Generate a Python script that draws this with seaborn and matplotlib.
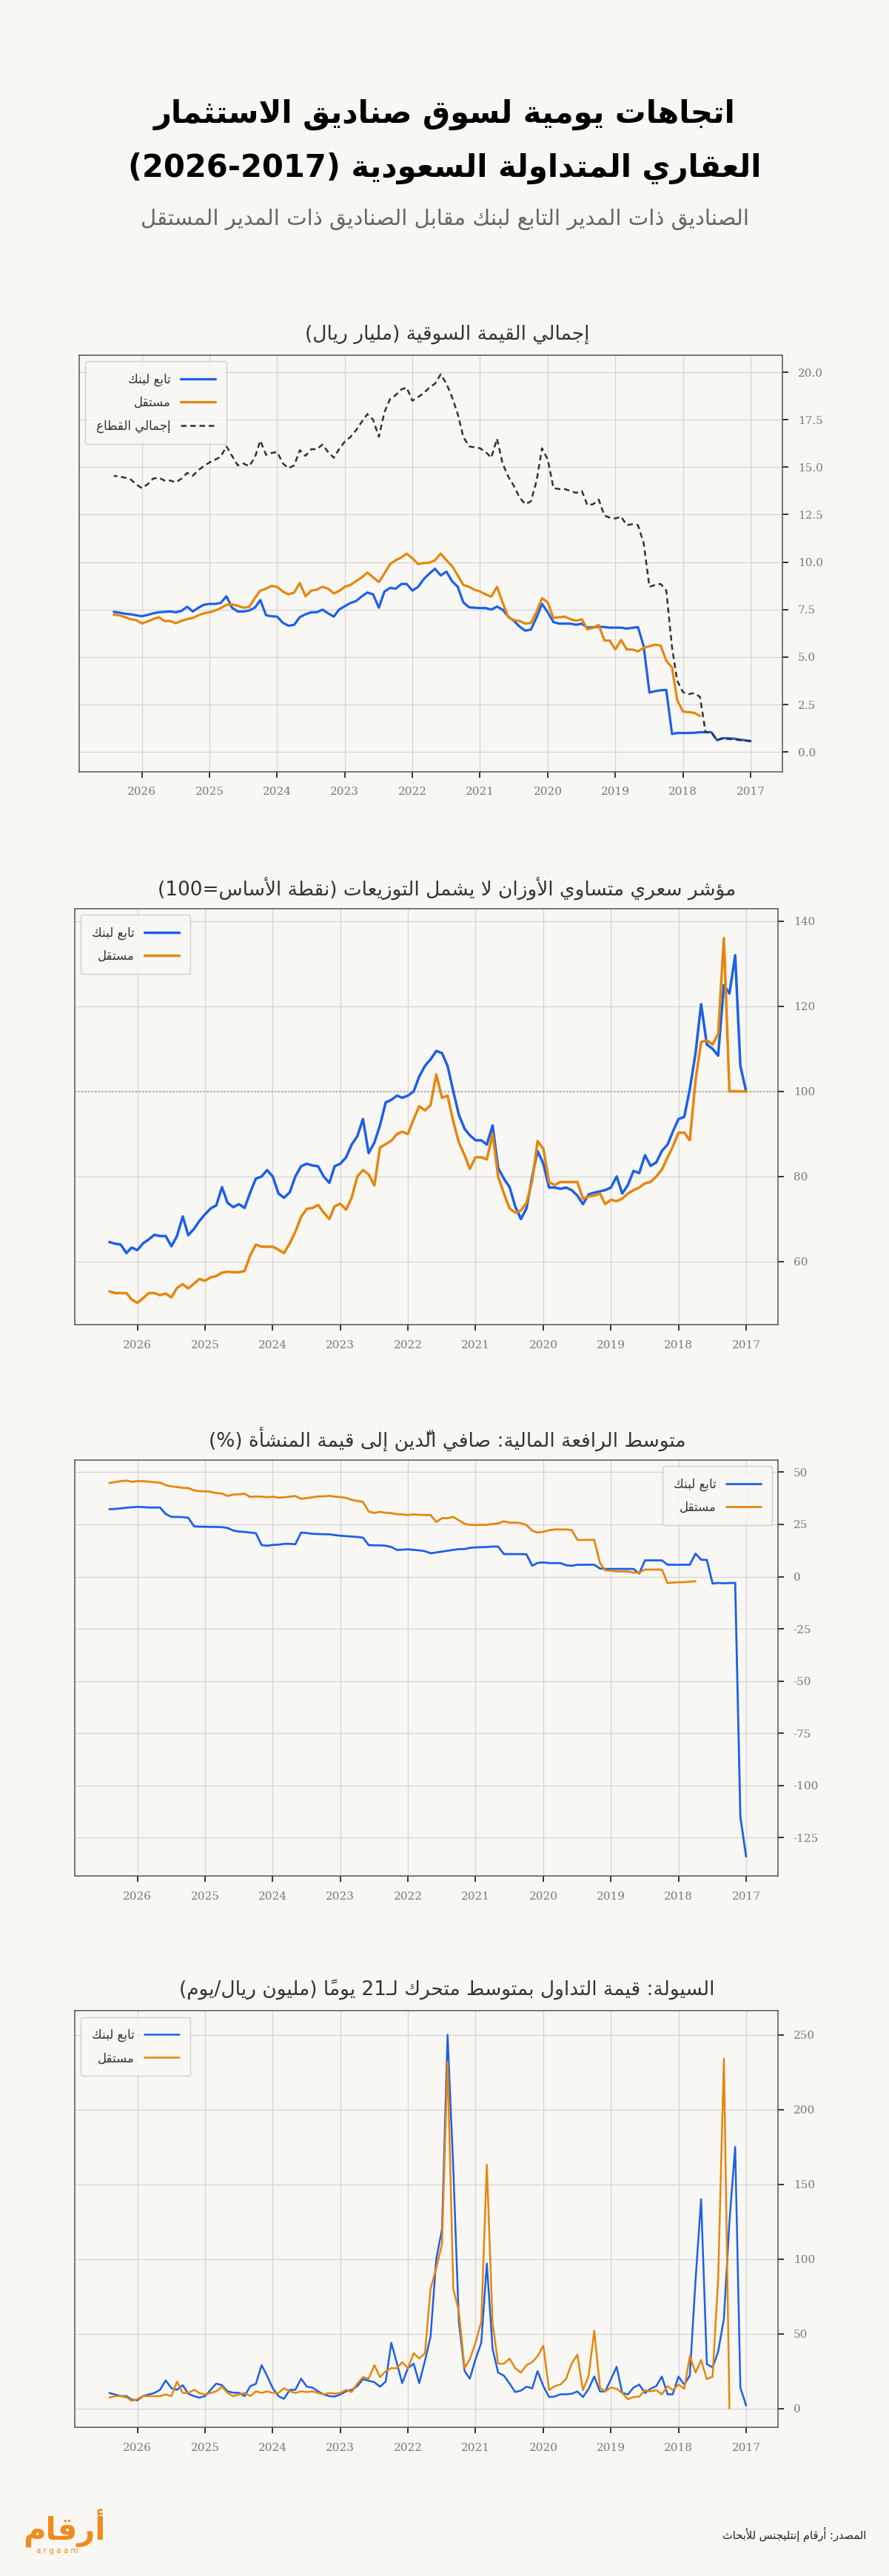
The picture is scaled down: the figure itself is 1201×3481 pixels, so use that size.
import re
import numpy as np
import pandas as pd
import matplotlib
matplotlib.use("Agg")
import matplotlib.pyplot as plt
import seaborn as sns

nan = np.nan

# monthly points, Jan 2017 .. Jun 2026
months = pd.date_range("2017-01-01", periods=114, freq="MS")

# total market value, bn SAR
mv_bank = [
    0.57, 0.62, 0.65, 0.7, 0.72, 0.72, 0.62, 1.04, 1.04, 1.04, 1.01, 1.0,
    1.0, 1.0, 0.95, 3.27, 3.25, 3.2, 3.13, 5.57, 6.58, 6.54, 6.5, 6.55,
    6.55, 6.55, 6.58, 6.6, 6.57, 6.55, 6.76, 6.7, 6.76, 6.76, 6.76, 6.84,
    7.36, 7.8, 7.1, 6.45, 6.39, 6.6, 6.9, 7.13, 7.5, 7.66, 7.5, 7.58,
    7.58, 7.6, 7.62, 7.88, 8.7, 9.0, 9.5, 9.3, 9.65, 9.4, 9.1, 8.7,
    8.5, 8.85, 8.85, 8.6, 8.65, 8.45, 7.6, 8.3, 8.4, 8.2, 7.95, 7.85,
    7.68, 7.5, 7.13, 7.3, 7.5, 7.36, 7.36, 7.25, 7.1, 6.7, 6.65, 6.8,
    7.13, 7.15, 7.2, 8.0, 7.6, 7.45, 7.4, 7.4, 7.6, 8.2, 7.85, 7.8,
    7.8, 7.75, 7.6, 7.4, 7.65, 7.43, 7.36, 7.4, 7.38, 7.36, 7.3, 7.22,
    7.15, 7.2, 7.25, 7.28, 7.34, 7.38,
]
mv_indep = [
    nan, nan, nan, nan, nan, nan, nan, nan, nan, 1.9, 2.06, 2.1,
    2.13, 2.73, 4.45, 4.8, 5.6, 5.65, 5.57, 5.49, 5.3, 5.4, 5.4, 5.9,
    5.4, 5.87, 5.87, 6.69, 6.54, 6.46, 6.99, 6.91, 7.0, 7.13, 7.1, 7.06,
    7.88, 8.1, 7.4, 6.8, 6.76, 6.9, 6.95, 7.1, 7.88, 8.7, 8.18, 8.3,
    8.45, 8.55, 8.7, 8.8, 9.3, 9.8, 10.1, 10.45, 10.1, 9.97, 9.95, 9.9,
    10.2, 10.45, 10.25, 10.1, 9.9, 9.4, 8.95, 9.2, 9.45, 9.2, 9.0, 8.8,
    8.7, 8.48, 8.35, 8.6, 8.7, 8.55, 8.5, 8.2, 8.9, 8.4, 8.3, 8.45,
    8.7, 8.75, 8.6, 8.5, 8.1, 7.63, 7.6, 7.7, 7.78, 7.75, 7.58, 7.45,
    7.36, 7.3, 7.2, 7.06, 7.0, 6.91, 6.78, 6.9, 6.9, 7.1, 7.0, 6.88,
    6.77, 6.95, 6.99, 7.1, 7.2, 7.23,
]
mv_total = [
    0.57, 0.6, 0.62, 0.67, 0.68, 0.72, 0.62, 1.04, 1.04, 2.9, 3.1, 3.05,
    3.15, 3.75, 5.5, 8.5, 8.85, 8.8, 8.7, 11.0, 11.95, 12.0, 11.95, 12.4,
    12.3, 12.35, 12.45, 13.3, 13.05, 13.0, 13.75, 13.65, 13.75, 13.85, 13.85, 13.9,
    15.4, 16.0, 14.3, 13.2, 13.05, 13.4, 14.0, 14.5, 15.2, 16.5, 15.5, 15.8,
    16.0, 16.05, 16.1, 16.6, 17.8, 18.7, 19.4, 19.9, 19.4, 19.2, 18.9, 18.7,
    18.5, 19.2, 19.1, 18.8, 18.6, 17.9, 16.6, 17.5, 17.8, 17.4, 16.95, 16.6,
    16.35, 15.95, 15.5, 15.8, 16.2, 15.95, 15.95, 15.6, 15.9, 15.1, 14.95, 15.2,
    15.8, 15.75, 15.65, 16.4, 15.5, 15.05, 15.2, 15.1, 15.6, 16.1, 15.55, 15.4,
    15.25, 15.05, 14.85, 14.55, 14.7, 14.4, 14.2, 14.3, 14.3, 14.45, 14.4, 14.1,
    13.9, 14.1, 14.35, 14.45, 14.5, 14.55,
]

# equal weight price index (base = 100)
px_bank = [
    100, 106, 132, 123, 125, 108.4, 110, 111, 120.5, 109, 100.5, 94,
    93.5, 90.5, 87.5, 86, 83.3, 82.5, 85, 80.8, 81.3, 78, 76, 80,
    77.4, 76.8, 76.5, 76.2, 75.8, 73.5, 75.5, 76.8, 77.4, 77.1, 77.4, 77.4,
    83, 86, 80, 72.5, 70, 73, 77.5, 79.5, 82, 92, 87.5, 88.5,
    88.5, 89.7, 91.2, 94.5, 100, 106, 109, 109.5, 107.5, 106, 103.5, 100,
    99, 98.5, 99, 98, 97.4, 92, 88, 85.5, 93.5, 89.5, 87.5, 84.5,
    83, 82.4, 78.5, 80, 82.4, 82.6, 83, 82.4, 80, 76.3, 75, 76,
    80, 81.5, 80, 79.5, 76.3, 72.6, 73.5, 72.8, 73.8, 77.5, 73.2, 72.5,
    71.1, 69.5, 67.7, 66.2, 70.6, 66, 63.6, 66, 66, 66.3, 65.2, 64.3,
    62.7, 63.3, 62, 64, 64.2, 64.6,
]
px_indep = [
    100, 100, 100, 100, 136, 113.5, 111, 112, 111.6, 102.6, 88.5, 90.3,
    90.3, 87, 84.5, 81.6, 80, 78.7, 78.4, 77.4, 76.8, 76, 74.8, 74.2,
    74.5, 73.5, 76, 75.5, 75.3, 74.8, 78.7, 78.7, 78.7, 78.7, 78, 78.7,
    86.5, 88.3, 79, 73.8, 72, 71.5, 72.5, 76, 80, 90, 84, 84.5,
    84.5, 81.8, 85, 88, 92.9, 99, 98.5, 104, 96.8, 95.5, 96.5, 93.5,
    90, 90.5, 90, 88.4, 87.6, 86.8, 77.9, 80.5, 81.5, 80, 75, 72.2,
    73.6, 73, 70, 71.5, 73.3, 72.6, 72.4, 70.5, 67, 64.3, 62, 62.8,
    63.5, 63.5, 63.5, 64, 61.5, 57.8, 57.5, 57.5, 57.6, 57.4, 56.6, 56.3,
    55.5, 55.9, 54.8, 53.7, 54.7, 53.8, 51.6, 52.5, 52.1, 52.6, 52.6, 51.4,
    50.3, 51.1, 52.6, 52.6, 52.6, 53,
]

# net debt to enterprise value, %
lev_bank = [
    -134, -115, -3, -3, -3.2, -3, -3.3, 8, 8.1, 11, 5.7, 5.7,
    5.7, 5.7, 5.7, 7.8, 7.8, 7.8, 7.8, 1.5, 3.7, 3.7, 3.7, 3.7,
    3.7, 3.7, 3.9, 5.7, 5.7, 5.7, 5.7, 5.2, 5.5, 6.5, 6.5, 6.5,
    6.8, 6.6, 5.2, 10.7, 10.8, 10.8, 10.8, 10.8, 14.4, 14.4, 14.2, 14.1,
    14.0, 13.8, 13.2, 13.2, 12.8, 12.4, 12.0, 11.6, 11.2, 12.2, 12.6, 12.8,
    13.1, 12.9, 12.8, 14.2, 14.8, 15.0, 15.0, 15.1, 18.7, 19.0, 19.2, 19.4,
    19.6, 19.9, 20.3, 20.3, 20.4, 20.5, 20.9, 21.1, 15.5, 15.7, 15.7, 15.3,
    15.2, 14.8, 15.1, 20.8, 21.1, 21.4, 21.6, 22.1, 23.3, 23.7, 23.8, 23.8,
    23.9, 23.9, 24.1, 28.2, 28.5, 28.6, 28.6, 30.0, 33.1, 33.1, 33.1, 33.3,
    33.4, 33.2, 33.0, 32.7, 32.4, 32.3,
]
lev_indep = [
    nan, nan, nan, nan, nan, nan, nan, nan, nan, -2.2, -2.4, -2.6,
    -2.7, -2.8, -3.1, 3.4, 3.4, 3.4, 3.4, 2.0, 1.9, 2.5, 2.5, 2.5,
    2.9, 3.0, 6.5, 17.6, 17.6, 17.6, 17.6, 22.3, 22.6, 22.6, 22.6, 22.2,
    21.5, 21.1, 22.0, 24.7, 25.6, 25.9, 25.8, 26.5, 25.5, 25.2, 24.8, 24.8,
    24.7, 24.8, 25.3, 27.0, 28.6, 28.0, 28.0, 26.2, 29.5, 29.5, 29.6, 29.8,
    29.5, 29.8, 29.9, 30.4, 30.6, 31.0, 30.5, 31.2, 35.8, 36.2, 36.8, 37.7,
    38.1, 38.3, 38.7, 38.4, 38.4, 38.0, 37.6, 37.3, 38.6, 38.3, 38.0, 37.8,
    38.3, 38.0, 38.3, 38.4, 38.1, 39.7, 39.4, 39.3, 38.6, 39.8, 40.0, 40.6,
    40.8, 40.9, 41.3, 42.4, 42.5, 42.9, 43.2, 43.8, 45.0, 45.2, 45.5, 45.7,
    45.7, 45.4, 46.0, 45.7, 45.3, 44.8,
]

# 21 day moving average traded value, mn SAR / day
liq_bank = [
    2, 14, 175, 125, 60, 38, 27.5, 29.7, 140, 86, 22, 16,
    21.4, 9.5, 9.5, 21.4, 15, 13.2, 10.4, 16, 14, 9.5, 10.4, 27.9,
    19.6, 11.4, 11.4, 21.4, 13.2, 7.7, 11.4, 9.9, 9.5, 9.5, 8, 7.7,
    15, 25, 13.5, 14.6, 12, 11, 16.7, 22, 24, 40, 97, 44,
    33, 20, 25, 58, 160, 250, 120, 100, 48, 32, 17, 30,
    27, 17, 30, 44, 18, 14.6, 17.6, 18.6, 19.6, 15, 12.5, 11.5,
    9.4, 8, 8.3, 9.4, 11.5, 14, 14.6, 20, 12.5, 12.5, 6.5, 8.3,
    13.6, 22, 29, 16.5, 15, 8.3, 10.5, 10.6, 11.5, 15.6, 16.7, 12.5,
    8.3, 7.3, 8.3, 9.9, 15.6, 12.5, 13.6, 18.8, 12.5, 10.4, 9.4, 8.3,
    5.5, 6, 8.3, 8.3, 9.4, 10.4,
]
liq_indep = [
    nan, nan, nan, 0, 234, 86.5, 21.4, 19.6, 32.4, 24, 35, 13.2,
    16, 12.3, 15, 9.5, 12.3, 11.4, 12.3, 8, 7.7, 6.2, 10.4, 13.2,
    14, 11.4, 14, 52, 22, 12.3, 36, 30, 19.6, 16, 15, 12.3,
    42, 35, 31, 29, 24, 27, 33.4, 30, 30, 57, 163, 58,
    44, 33, 27, 65, 80, 232, 110, 94, 80, 37, 33.4, 37,
    27, 31, 27, 27, 25, 21, 29, 20, 21, 16.7, 11, 12.5,
    10.4, 10, 10.4, 9.4, 10.4, 11.5, 11, 11.5, 10.4, 11.5, 13.6, 10.4,
    10.4, 11.5, 10.4, 11.5, 8.3, 10.4, 9.4, 8.3, 10.4, 14.6, 11.5, 10.4,
    9.4, 10.4, 12.5, 10.4, 10.4, 18, 8.3, 9.4, 8.3, 8.3, 8.3, 8.3,
    6.3, 5.2, 7.5, 8.3, 8.3, 7.3,
]

years = list(range(2017, 2027))

# ---- arabic text: matplotlib does no shaping / bidi, so do it here ----
AR_LETTERS = "ءآأؤإئابةتثجحخدذرزسشصضطظعغفقكلمنهوىي"
AR_NFORMS = [1, 2, 2, 2, 2, 4, 2, 4, 2, 4, 4, 4, 4, 4, 2, 2, 2, 2,
             4, 4, 4, 4, 4, 4, 4, 4, 4, 4, 4, 4, 4, 4, 4, 2, 2, 4]
AR_FORMS = {}
code = 0xFE80
for ch, n in zip(AR_LETTERS, AR_NFORMS):
    AR_FORMS[ch] = [chr(code + i) for i in range(n)]
    code += n
AR_FORMS["ـ"] = ["ـ"] * 4
LAM_ALEF = {"آ": 0xFEF5, "أ": 0xFEF7, "إ": 0xFEF9, "ا": 0xFEFB}
MARKS = set(chr(c) for c in range(0x064B, 0x0653))
MIRROR = {"(": ")", ")": "("}


def joins_left(ch):
    return ch in AR_FORMS and len(AR_FORMS[ch]) == 4


def joins_right(ch):
    return ch in AR_FORMS and len(AR_FORMS[ch]) >= 2


def rtl(text):
    clusters = []
    for ch in text:
        if ch in MARKS and clusters:
            clusters[-1] += ch
        else:
            clusters.append(ch)
    shaped = []
    k = 0
    while k < len(clusters):
        b, marks = clusters[k][0], clusters[k][1:]
        prev = clusters[k - 1][0] if k > 0 else ""
        nxt = clusters[k + 1][0] if k + 1 < len(clusters) else ""
        from_prev = joins_left(prev) and joins_right(b)
        if b == "ل" and nxt in LAM_ALEF:
            lig = chr(LAM_ALEF[nxt] + (1 if from_prev else 0))
            shaped.append(lig + marks + clusters[k + 1][1:])
            k += 2
            continue
        if b in AR_FORMS:
            forms = AR_FORMS[b]
            to_next = joins_left(b) and joins_right(nxt)
            if from_prev and to_next:
                f = forms[3]
            elif to_next:
                f = forms[2]
            elif from_prev:
                f = forms[1]
            else:
                f = forms[0]
            shaped.append(f + marks)
        else:
            shaped.append(clusters[k])
        k += 1
    # keep digit runs left-to-right, reverse the rest
    runs = []
    for cl in shaped:
        if re.match(r"[0-9A-Za-z]", cl):
            if runs and isinstance(runs[-1], list):
                runs[-1].append(cl)
            else:
                runs.append([cl])
        else:
            runs.append(cl)
    out = []
    for r in reversed(runs):
        out.append("".join(r) if isinstance(r, list) else MIRROR.get(r, r))
    return "".join(out)


# ---- style ----
BG = "#f9f7f3"
BLUE = "#1c60e8"
ORANGE = "#e5870e"
DARK = "#333333"
GRID = "#d2d5db"
TICK_TXT = "#7a7a7a"

sns.set_theme(style="whitegrid")
plt.rcParams["font.family"] = ["DejaVu Sans"]
plt.rcParams["axes.unicode_minus"] = False

fig = plt.figure(figsize=(12.01, 34.81), dpi=100, facecolor=BG)

fig.text(0.5, 0.9555, rtl("اتجاهات يومية لسوق صناديق الاستثمار"),
         ha="center", va="center", fontsize=30, fontweight="bold", color="black")
fig.text(0.5, 0.9348, rtl("العقاري المتداولة السعودية (2017-2026)"),
         ha="center", va="center", fontsize=30, fontweight="bold", color="black")
fig.text(0.5, 0.9147, rtl("الصناديق ذات المدير التابع لبنك مقابل الصناديق ذات المدير المستقل"),
         ha="center", va="center", fontsize=21, color="#666666")

panel_titles = [
    "إجمالي القيمة السوقية (مليار ريال)",
    "مؤشر سعري متساوي الأوزان لا يشمل التوزيعات (نقطة الأساس=100)",
    "متوسط الرافعة المالية: صافي الدَّين إلى قيمة المنشأة (%)",
    "السيولة: قيمة التداول بمتوسط متحرك لـ21 يوماً (مليون ريال/يوم)",
]
title_y = [0.8702, 0.6550, 0.4413, 0.2278]
rects = [
    [0.0891, 0.7005, 0.7910, 0.1616],
    [0.0841, 0.4858, 0.7910, 0.1614],
    [0.0841, 0.2718, 0.7910, 0.1614],
    [0.0841, 0.0577, 0.7910, 0.1617],
]
ylims = [(-1.03, 20.9), (45.2, 142.9), (-143.2, 55.8), (-12.6, 266)]
yticks = [
    [0, 2.5, 5, 7.5, 10, 12.5, 15, 17.5, 20],
    [60, 80, 100, 120, 140],
    [-125, -100, -75, -50, -25, 0, 25, 50],
    [0, 50, 100, 150, 200, 250],
]
yfmt = ["{:.1f}", "{:.0f}", "{:.0f}", "{:.0f}"]
legend_loc = ["upper left", "upper left", "upper right", "upper left"]

lab_bank = rtl("تابع لبنك")
lab_indep = rtl("مستقل")
lab_total = rtl("إجمالي القطاع")

series = [
    [(mv_bank, BLUE, lab_bank, "-"), (mv_indep, ORANGE, lab_indep, "-"),
     (mv_total, DARK, lab_total, (0, (3, 2)))],
    [(px_bank, BLUE, lab_bank, "-"), (px_indep, ORANGE, lab_indep, "-")],
    [(lev_bank, BLUE, lab_bank, "-"), (lev_indep, ORANGE, lab_indep, "-")],
    [(liq_bank, BLUE, lab_bank, "-"), (liq_indep, ORANGE, lab_indep, "-")],
]
widths = [2.3, 2.5, 2.0, 1.8]

for i in range(4):
    ax = fig.add_axes(rects[i])
    ax.set_facecolor(BG)

    if i == 1:
        ax.axhline(100, color="#8a8a8a", lw=1.1, ls=(0, (1, 2)), zorder=1)

    for vals, color, label, ls in series[i]:
        lw = 1.8 if color == DARK else widths[i]
        sns.lineplot(x=months, y=vals, ax=ax, color=color, lw=lw,
                     linestyle=ls, label=label)

    ax.set_xlim(pd.Timestamp("2026-12-05"), pd.Timestamp("2016-07-13"))
    ax.set_ylim(*ylims[i])
    ax.set_xlabel("")
    ax.set_ylabel("")

    ax.yaxis.tick_right()
    ax.set_xticks([pd.Timestamp(f"{y}-01-01") for y in years],
                  labels=[str(y) for y in years],
                  fontfamily="DejaVu Serif", fontsize=11, color=TICK_TXT)
    ax.set_yticks(yticks[i], labels=[yfmt[i].format(v) for v in yticks[i]],
                  fontfamily="DejaVu Serif", fontsize=11, color=TICK_TXT)
    ax.tick_params(axis="both", length=6, width=1.4, color="#333333",
                   pad=9, bottom=True, right=True, left=False)

    ax.grid(True, color=GRID, lw=0.9)
    ax.set_axisbelow(True)
    for sp in ax.spines.values():
        sp.set_visible(True)
        sp.set_color("#555555")
        sp.set_linewidth(1.1)

    leg = ax.legend(loc=legend_loc[i], markerfirst=False, fontsize=12,
                    frameon=True, fancybox=True, framealpha=0.85,
                    facecolor=BG, edgecolor="#c8c8c8", handlelength=2.8,
                    borderpad=0.9, labelspacing=0.8)
    for t in leg.get_texts():
        t.set_color("#333333")

    fig.text(0.503, title_y[i], rtl(panel_titles[i]), ha="center",
             va="center", fontsize=19, color="#333333")

# footer
fig.text(0.974, 0.0161, rtl("المصدر: أرقام إنتليجنس للأبحاث"), ha="right",
         va="center", fontsize=10.5, color="#222222")
fig.text(0.072, 0.0185, rtl("أرقام"), ha="center", va="center",
         fontsize=30, fontweight="bold", color="#f28a1e")
fig.text(0.064, 0.0098, "a r g a a m", ha="center", va="center",
         fontsize=7.5, color="#f28a1e")

fig.savefig("out.png", dpi=100, facecolor=BG)
